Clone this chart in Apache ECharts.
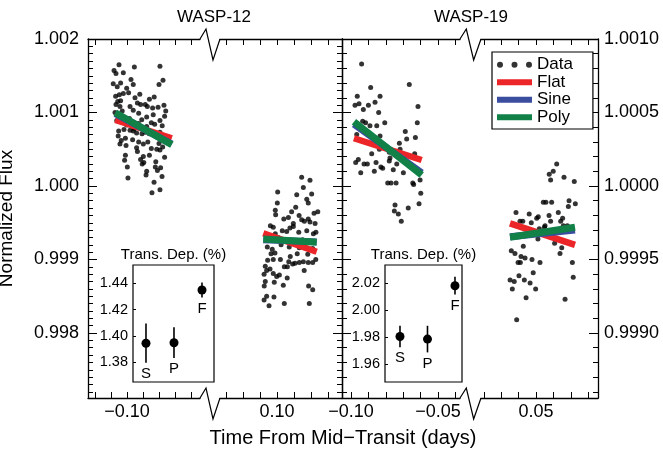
<!DOCTYPE html>
<html><head><meta charset="utf-8">
<script src="https://cdn.jsdelivr.net/npm/echarts@6/dist/echarts.min.js"></script>
<style>html,body{margin:0;padding:0;background:#fff}#c{width:663px;height:451px}</style>
</head><body><div id="c"></div>
<script>
// ---------------- DATA ----------------
const W12_PRE_T = [-0.1050,-0.0954,-0.0794,-0.1081,-0.1069,-0.1023,-0.0775,-0.0800,-0.1086,-0.1061,-0.1002,-0.0961,-0.0990,-0.1023,-0.1048,-0.1071,-0.1058,-0.1040,-0.0935,-0.0915,-0.0886,-0.0873,-0.0840,-0.0806,-0.0769,-0.0758,-0.1069,-0.1044,-0.0927,-0.0877,-0.0836,-0.0794,-0.0827,-0.0848,-0.1064,-0.1002,-0.1052,-0.1019,-0.0981,-0.0961,-0.0940,-0.0906,-0.0886,-0.0861,-0.0794,-0.1036,-0.1044,-0.1006,-0.0965,-0.0927,-0.0898,-0.0848,-0.0814,-0.0794,-0.0777,-0.0935,-0.1010,-0.0898,-0.0915,-0.0765,-0.1015,-0.0998,-0.0823,-0.0790,-0.0877,-0.0810,-0.0881,-0.0781,-0.0994,-0.0831,-0.0844,-0.0794,-0.0961,-0.0981,-0.0929,-0.0814,-0.0773,-0.0877,-0.0908,-0.1075,-0.1030,-0.0985,-0.0950,-0.0920,-0.0860,-0.0830,-0.0780,-0.0800,-0.0870,-0.1055,-0.1010,-0.0940,-0.0895,-0.0860,-0.0765,-0.1040,-0.0975,-0.0905,-0.0820,-0.0955];
const W12_PRE_F = [1.00165,1.00162,1.00163,1.00157,1.00153,1.00154,1.00144,1.00138,1.00139,1.00135,1.00133,1.00138,1.00127,1.00126,1.00124,1.00122,1.00115,1.00116,1.00113,1.00111,1.00111,1.00108,1.00106,1.00107,1.00110,1.00102,1.00111,1.00108,1.00099,1.00094,1.00097,1.00089,1.00084,1.00086,1.00089,1.00083,1.00075,1.00077,1.00076,1.00075,1.00072,1.00071,1.00073,1.00071,1.00073,1.00062,1.00057,1.00055,1.00063,1.00060,1.00057,1.00051,1.00050,1.00049,1.00053,1.00047,1.00042,1.00040,1.00036,1.00039,1.00035,1.00026,1.00026,1.00025,1.00020,1.00021,1.00015,1.00013,1.00011,1.00005,0.99991,0.99995,1.00103,1.00108,1.00085,1.00067,1.00063,1.00081,1.00090,1.00100,1.00102,1.00092,1.00120,1.00125,1.00118,1.00121,1.00082,1.00058,1.00060,1.00068,1.00065,1.00052,1.00032,1.00042,1.00095,1.00140,1.00145,1.00030,1.00033,1.00078];
const W12_POST_T = [0.1145,0.1194,0.1155,0.1204,0.1004,0.1116,0.1175,0.1184,0.1002,0.1110,0.0990,0.1086,0.1218,0.0992,0.1145,0.1184,0.1194,0.1224,0.1161,0.0961,0.0978,0.1096,0.1067,0.1031,0.1057,0.1076,0.1096,0.1128,0.1175,0.1214,0.1229,0.0943,0.0972,0.0965,0.0988,0.1072,0.1131,0.1155,0.1181,0.1119,0.0945,0.0978,0.1078,0.1069,0.1131,0.1155,0.1184,0.1210,0.1228,0.0931,0.0959,0.0939,0.0978,0.0998,0.1014,0.1043,0.1061,0.1092,0.1106,0.0924,0.0931,0.0925,0.0984,0.1037,0.1186,0.1210,0.0939,0.0982,0.0924,0.0953,0.1043,0.1190,0.0959,0.1008,0.1151,0.1188,0.1024,0.1100,0.1040,0.0950,0.1160,0.1210,0.1060,0.1130,0.1020,0.1240,0.0990];
const W12_POST_F = [1.00012,1.00008,0.99998,0.99989,0.99992,0.99988,0.99982,0.99977,0.99977,0.99971,0.99967,0.99965,0.99963,0.99961,0.99954,0.99955,0.99951,0.99949,0.99952,0.99946,0.99944,0.99949,0.99957,0.99939,0.99938,0.99943,0.99945,0.99937,0.99939,0.99935,0.99937,0.99917,0.99914,0.99908,0.99909,0.99917,0.99916,0.99917,0.99907,0.99908,0.99899,0.99900,0.99904,0.99897,0.99896,0.99897,0.99896,0.99896,0.99900,0.99891,0.99887,0.99885,0.99881,0.99877,0.99879,0.99890,0.99890,0.99894,0.99895,0.99880,0.99870,0.99864,0.99869,0.99865,0.99864,0.99859,0.99850,0.99849,0.99845,0.99837,0.99840,0.99840,0.99928,0.99930,0.99927,0.99925,0.99920,0.99925,0.99955,0.99930,0.99885,0.99915,0.99875,0.99960,0.99900,0.99965,0.99935];
const W19_PRE_T = [-0.0939,-0.0887,-0.0665,-0.0964,-0.0833,-0.0977,-0.0954,-0.0900,-0.0862,-0.0929,-0.0841,-0.0615,-0.0619,-0.0933,-0.0916,-0.0891,-0.0852,-0.0806,-0.0967,-0.0688,-0.0680,-0.0630,-0.0722,-0.0881,-0.0837,-0.0780,-0.0718,-0.0634,-0.0973,-0.0958,-0.0925,-0.0906,-0.0856,-0.0828,-0.0818,-0.0866,-0.0944,-0.0780,-0.0757,-0.0737,-0.0699,-0.0603,-0.0789,-0.0770,-0.0741,-0.0645,-0.0640,-0.0599,-0.0747,-0.0609,-0.0751,-0.0728,-0.0671,-0.0711,-0.0776,-0.0833];
const W19_PRE_F = [1.00083,1.00067,1.00069,1.00061,1.00061,1.00055,1.00056,1.00055,1.00057,1.00052,1.00050,1.00054,1.00043,1.00044,1.00043,1.00041,1.00041,1.00043,1.00035,1.00037,1.00032,1.00033,1.00029,1.00022,1.00025,1.00023,1.00025,1.00022,1.00016,1.00018,1.00015,1.00015,1.00016,1.00013,1.00012,1.00010,1.00009,1.00017,1.00011,1.00015,1.00009,1.00004,1.00002,1.00002,1.00002,1.00002,1.00001,0.99995,0.99987,0.99988,0.99983,0.99981,0.99985,0.99976,1.00019,1.00034];
const W19_POST_T = [0.0619,0.0599,0.0576,0.0584,0.0661,0.0720,0.0542,0.0557,0.0590,0.0690,0.0686,0.0726,0.0385,0.0461,0.0513,0.0504,0.0575,0.0628,0.0653,0.0642,0.0408,0.0424,0.0473,0.0552,0.0519,0.0548,0.0584,0.0657,0.0680,0.0511,0.0607,0.0648,0.0638,0.0358,0.0379,0.0427,0.0414,0.0437,0.0397,0.0410,0.0477,0.0523,0.0709,0.0484,0.0402,0.0351,0.0375,0.0433,0.0466,0.0498,0.0364,0.0443,0.0714,0.0667,0.0389];
const W19_POST_F = [1.00015,1.00010,1.00008,1.00004,1.00006,1.00003,0.99989,0.99989,0.99989,0.99990,0.99986,0.99988,0.99982,0.99981,0.99979,0.99978,0.99980,0.99982,0.99978,0.99976,0.99976,0.99976,0.99975,0.99973,0.99971,0.99972,0.99976,0.99973,0.99973,0.99964,0.99961,0.99958,0.99954,0.99956,0.99954,0.99959,0.99952,0.99951,0.99948,0.99948,0.99950,0.99948,0.99948,0.99941,0.99939,0.99936,0.99935,0.99936,0.99934,0.99930,0.99930,0.99924,0.99938,0.99923,0.99909];

// model fits: [start, end] times and fluxes
const W12_FIT_PRE_T = [-0.1073, -0.0720];
const W12_FIT_POST_T = [0.09194, 0.12335];
const W12_FLAT_PRE = [1.000899, 1.000650];
const W12_FLAT_POST = [0.999357, 0.999106];
const W12_SINE_PRE = [1.000985, 1.000570];
const W12_SINE_POST = [0.999270, 0.999240];
const W12_POLY_PRE = [1.000996, 1.000563];
const W12_POLY_POST = [0.999279, 0.999234];
const W19_FIT_PRE_T = [-0.0983, -0.05937];
const W19_FIT_POST_T = [0.03506, 0.07241];
const W19_FLAT_PRE = [1.000325, 1.000177];
const W19_FLAT_POST = [0.999746, 0.999599];
const W19_SINE_PRE = [1.000420, 1.000090];
const W19_SINE_POST = [0.999655, 0.999700];
const W19_POLY_PRE = [1.000437, 1.000075];
const W19_POLY_POST = [0.999651, 0.999719];

// inset: transit depths (%)
const DEPTH_LABELS = ['S', 'P', 'F'];
const DEPTH_POS = [1, 2, 3];
const W12_DEPTH = [1.3943, 1.3947, 1.4349];
const W12_DEPTH_ERR = [0.0150, 0.0117, 0.0057];
const W19_DEPTH = [1.9804, 1.9785, 2.0182];
const W19_DEPTH_ERR = [0.0080, 0.0099, 0.0066];

// tick labels
const W12_Y_LABELS = [0.998, 0.999, 1.000, 1.001, 1.002];
const W19_Y_LABELS = [0.9990, 0.9995, 1.0000, 1.0005, 1.0010];
const X_LABELS = [[-0.10], [0.10], [-0.10, -0.05], [0.05]];
const X_TICKS = [[-0.12,-0.11,-0.10,-0.09,-0.08,-0.07,-0.06],[0.07,0.08,0.09,0.10,0.11,0.12,0.13],[-0.10,-0.09,-0.08,-0.07,-0.06,-0.05,-0.04],[0.02,0.03,0.04,0.05,0.06,0.07,0.08]];
const W12_INSET_LABELS = [1.38, 1.40, 1.42, 1.44];
const W19_INSET_LABELS = [1.96, 1.98, 2.00, 2.02];

// ---------------- LAYOUT / STYLE ----------------
const FONT = '"Liberation Sans", Arial, Helvetica, sans-serif';
const BLACK = '#000';
const RED = '#ec2528', BLUE = '#3a4d9f', GREEN = '#118148';
const TOP = 39, H = 359;
const SEG = [
  {left: 88, width: 112, xmin: -0.124375, xmax: -0.054375, side: 'left', y: 0},
  {left: 220, width: 122, xmin: 0.066471, xmax: 0.138235, side: 'right', y: 0},
  {left: 342, width: 118, xmin: -0.105172, xmax: -0.037356, side: 'left', y: 1},
  {left: 481, width: 117, xmin: 0.018391, xmax: 0.085632, side: 'right', y: 1}
];
const YR = [{min: 0.997116, max: 1.002}, {min: 0.9985578, max: 1.001}];
const minorW12 = []; for (let k = 9972; k <= 10019; k++) minorW12.push(k / 10000);
const minorW19 = []; for (let k = 9986; k <= 10009; k++) minorW19.push(k / 10000);
const MINOR = [minorW12, minorW19];
const MAJOR = [W12_Y_LABELS, W19_Y_LABELS];

const zip = (a, b) => a.map((v, i) => [v, b[i]]);
const fmtX = v => (v < 0 ? '\u2212' : '') + Math.abs(v).toFixed(2);

const grid = [], xAxis = [], yAxis = [], series = [];
SEG.forEach((s, i) => grid.push({left: s.left, top: TOP, width: s.width, height: H, outerBoundsMode: 'none', containLabel: false}));
SEG.forEach((s, i) => grid.push({left: s.left, top: TOP, width: s.width, height: H, outerBoundsMode: 'none', containLabel: false}));
grid.push({left: 133, top: 265, width: 81, height: 117, show: true, borderColor: BLACK, borderWidth: 1.2, backgroundColor: 'transparent', outerBoundsMode: 'none'});
grid.push({left: 385, top: 265, width: 77, height: 117, show: true, borderColor: BLACK, borderWidth: 1.2, backgroundColor: 'transparent', outerBoundsMode: 'none'});

const lineStyle = {color: BLACK, width: 1.3};
// bottom x axes (0-3)
SEG.forEach((s, i) => xAxis.push({
  type: 'value', gridIndex: i, position: 'bottom', min: s.xmin, max: s.xmax,
  axisLine: {show: true, onZero: false, lineStyle},
  axisTick: {show: true, inside: true, length: 6, customValues: X_TICKS[i], lineStyle: {color: BLACK, width: 1}},
  axisLabel: {show: true, customValues: X_LABELS[i], formatter: fmtX, color: BLACK, fontSize: 18, fontFamily: FONT, margin: 5},
  splitLine: {show: false}
}));
// top x axes (4-7)
SEG.forEach((s, i) => xAxis.push({
  type: 'value', gridIndex: i, position: 'top', min: s.xmin, max: s.xmax,
  axisLine: {show: true, onZero: false, lineStyle},
  axisTick: {show: true, inside: true, length: 6, customValues: X_TICKS[i], lineStyle: {color: BLACK, width: 1}},
  axisLabel: {show: false}, splitLine: {show: false}
}));
// hidden x axes for minor-tick grids (8-11)
SEG.forEach((s, i) => xAxis.push({type: 'value', gridIndex: 4 + i, min: s.xmin, max: s.xmax, show: false}));
// inset x axes (12, 13)
xAxis.push({type: 'value', gridIndex: 8, min: 0.536, max: 3.429, show: false});
xAxis.push({type: 'value', gridIndex: 9, min: 0.455, max: 3.255, show: false});

// major y axes (0-3)
SEG.forEach((s, i) => {
  const showLab = (i === 0 || i === 3);
  const ax = {
    type: 'value', gridIndex: i, position: s.side, min: YR[s.y].min, max: YR[s.y].max,
    axisLine: {show: true, onZero: false, lineStyle},
    axisTick: {show: true, inside: true, length: 9, customValues: MAJOR[s.y], lineStyle: {color: BLACK, width: 1}},
    axisLabel: {show: showLab, customValues: MAJOR[s.y], formatter: v => v.toFixed(s.y === 0 ? 3 : 4), color: BLACK, fontSize: 18, fontFamily: FONT, margin: i === 0 ? 9 : 6},
    splitLine: {show: false}
  };
  if (i === 0) {
    ax.name = 'Normalized Flux'; ax.nameLocation = 'middle'; ax.nameRotate = 90; ax.nameGap = 72;
    ax.nameTextStyle = {fontSize: 19, fontFamily: FONT, color: BLACK};
  }
  yAxis.push(ax);
});
// minor y axes (4-7)
SEG.forEach((s, i) => yAxis.push({
  type: 'value', gridIndex: 4 + i, position: s.side, min: YR[s.y].min, max: YR[s.y].max,
  axisLine: {show: false}, axisLabel: {show: false}, splitLine: {show: false},
  axisTick: {show: true, inside: true, length: 5, customValues: MINOR[s.y], lineStyle: {color: BLACK, width: 1}}
}));
// inset y axes (8, 9)
[[W12_INSET_LABELS, 1.3647, 1.454, 8], [W19_INSET_LABELS, 1.9466, 2.0336, 9]].forEach(([labs, mn, mx, g]) => yAxis.push({
  type: 'value', gridIndex: g, min: mn, max: mx,
  axisLine: {show: false},
  axisTick: {show: true, inside: true, length: 3, customValues: labs, lineStyle: {color: BLACK, width: 1}},
  axisLabel: {show: true, customValues: labs, formatter: v => v.toFixed(2), color: BLACK, fontSize: 14.5, fontFamily: FONT, margin: 5},
  splitLine: {show: false}
}));

// scatter data
const DATA = [zip(W12_PRE_T, W12_PRE_F), zip(W12_POST_T, W12_POST_F), zip(W19_PRE_T, W19_PRE_F), zip(W19_POST_T, W19_POST_F)];
DATA.forEach((d, i) => series.push({
  name: 'Data', type: 'scatter', xAxisIndex: i, yAxisIndex: i, data: d, symbolSize: 5,
  itemStyle: {color: BLACK}, z: 2, silent: true
}));
const FITS = [
  ['Flat', RED, 6.5, [[W12_FIT_PRE_T, W12_FLAT_PRE], [W12_FIT_POST_T, W12_FLAT_POST], [W19_FIT_PRE_T, W19_FLAT_PRE], [W19_FIT_POST_T, W19_FLAT_POST]]],
  ['Sine', BLUE, 7, [[W12_FIT_PRE_T, W12_SINE_PRE], [W12_FIT_POST_T, W12_SINE_POST], [W19_FIT_PRE_T, W19_SINE_PRE], [W19_FIT_POST_T, W19_SINE_POST]]],
  ['Poly', GREEN, 7, [[W12_FIT_PRE_T, W12_POLY_PRE], [W12_FIT_POST_T, W12_POLY_POST], [W19_FIT_PRE_T, W19_POLY_PRE], [W19_FIT_POST_T, W19_POLY_POST]]]
];
FITS.forEach(([name, color, w, segs], k) => segs.forEach(([t, f], i) => series.push({
  name, type: 'line', xAxisIndex: i, yAxisIndex: i, data: zip(t, f), symbol: 'none', showSymbol: false,
  lineStyle: {color, width: w, cap: 'butt'}, itemStyle: {color}, z: 3 + k, silent: true
})));

// insets
function insetSeries(vals, errs, xi, yi) {
  return {
    type: 'custom', xAxisIndex: xi, yAxisIndex: yi, silent: true, z: 10,
    data: DEPTH_POS.map((p, i) => [p, vals[i], errs[i]]),
    renderItem: (params, api) => {
      const x = api.value(0), v = api.value(1), e = api.value(2);
      const p = api.coord([x, v]), lo = api.coord([x, v - e]), hi = api.coord([x, v + e]);
      return {type: 'group', children: [
        {type: 'line', shape: {x1: hi[0], y1: hi[1], x2: lo[0], y2: lo[1]}, style: {stroke: BLACK, lineWidth: 1.6}},
        {type: 'circle', shape: {cx: p[0], cy: p[1], r: 4.5}, style: {fill: BLACK}},
        {type: 'text', x: lo[0], y: lo[1] + 11, style: {text: DEPTH_LABELS[params.dataIndex], fill: BLACK, font: '15px ' + FONT, align: 'center', verticalAlign: 'middle'}}
      ]};
    }
  };
}
series.push(insetSeries(W12_DEPTH, W12_DEPTH_ERR, 12, 8));
series.push(insetSeries(W19_DEPTH, W19_DEPTH_ERR, 13, 9));

// graphics: axis breaks + texts
const graphic = [];
[[0, 1], [2, 3]].forEach(([a, b]) => {
  const x0 = SEG[a].left + SEG[a].width, x1 = SEG[b].left, d = x1 - x0;
  [TOP, TOP + H].forEach(y => graphic.push({
    type: 'polyline', z: 50, silent: true,
    shape: {points: [[x0, y], [x0 + 0.3 * d, y - 10], [x0 + 0.65 * d, y + 21], [x1, y]]},
    style: {stroke: BLACK, lineWidth: 1.2, fill: null}
  }));
});
function txt(text, x, y, size) {
  return {type: 'text', x, y, z: 50, silent: true, style: {text, fill: BLACK, font: size + 'px ' + FONT, align: 'center', verticalAlign: 'middle'}};
}
graphic.push(txt('WASP-12', 214, 17, 17));
graphic.push(txt('WASP-19', 471, 17, 17));
graphic.push(txt('Time From Mid\u2212Transit (days)', 343, 438, 20));
graphic.push(txt('Trans. Dep. (%)', 173.5, 255, 15));
graphic.push(txt('Trans. Dep. (%)', 423.5, 255, 15));

const dataIcon = 'path://M0,3a3,3 0 1,0 6,0a3,3 0 1,0 -6,0M14.5,3a3,3 0 1,0 6,0a3,3 0 1,0 -6,0M29,3a3,3 0 1,0 6,0a3,3 0 1,0 -6,0';

const chart = echarts.init(document.getElementById('c'), null, {renderer: 'canvas'});
chart.setOption({
  animation: false,
  backgroundColor: '#fff',
  grid, xAxis, yAxis, series, graphic,
  legend: {
    orient: 'vertical', left: 492, top: 52, itemWidth: 35, itemHeight: 6, itemGap: 0,
    padding: [4, 20, 3, 5], borderColor: BLACK, borderWidth: 1.2, backgroundColor: '#fff', borderRadius: 0,
    selectedMode: false, z: 20,
    textStyle: {fontSize: 17, fontFamily: FONT, color: BLACK, lineHeight: 17.5},
    data: [{name: 'Data', icon: dataIcon}, {name: 'Flat', icon: 'rect'}, {name: 'Sine', icon: 'rect'}, {name: 'Poly', icon: 'rect'}]
  }
});
</script></body></html>
